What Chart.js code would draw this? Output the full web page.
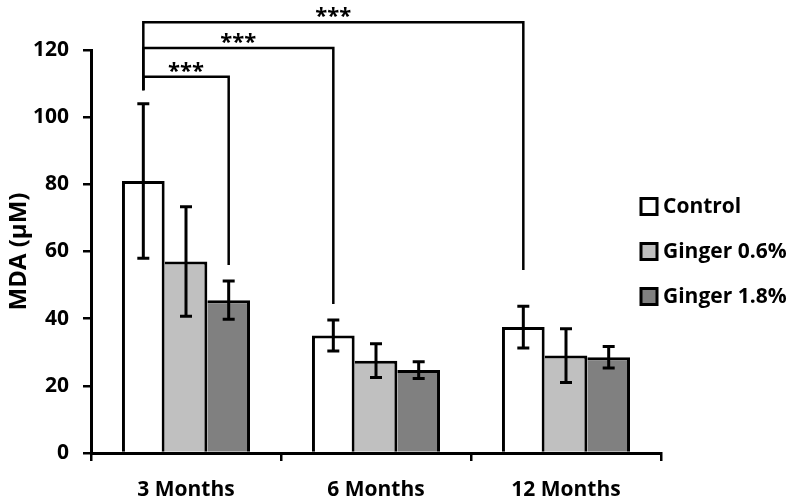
<!DOCTYPE html>
<html lang="en">

<head>
    <meta charset="UTF-8">
    <title>MDA</title>
    <script src="https://cdn.jsdelivr.net/npm/chart.js"></script>
    <style>
        html, body { margin: 0; padding: 0; background: #fff; }
        #box { width: 789px; height: 499px; }
    </style>
</head>

<body>
    <div id="box">
        <canvas id="myChart"></canvas>
    </div>

<script>
    const meses = ['3 Months', '6 Months', '12 Months'];
    const grupos = ['Control', 'Ginger 0.6%', 'Ginger 1.8%'];
    const cores = ['#ffffff', '#c0c0c0', '#808080'];

    const mediaControl = [81, 35, 37.5];
    const mediaGinger06 = [57, 27.5, 29];
    const mediaGinger18 = [45.5, 24.7, 28.5];

    const dpControl = [23, 4.6, 6.2];
    const dpGinger06 = [16.3, 5, 8];
    const dpGinger18 = [5.7, 2.5, 3.2];

    const ticksY = [0, 20, 40, 60, 80, 100, 120];

    // comparações: [grupo, mes] de onde sai, [grupo, mes] onde chega, topo, base esq, base dir
    const comparacoes = [
        [[0, 0], [2, 0], 112, 108, 56],
        [[0, 0], [0, 1], 120.6, 108, 44.4],
        [[0, 0], [0, 2], 128.3, 108, 54.5]
    ];
    const marcaSig = '***';

    const fonte = 'Open Sans';
    const lado = [
        { top: 3, left: 3, right: 3, bottom: 0 },
        { top: 3, left: 0, right: 3, bottom: 0 },
        { top: 3, left: 0, right: 3, bottom: 0 }
    ];

    const medias = [mediaControl, mediaGinger06, mediaGinger18];
    const desvios = [dpControl, dpGinger06, dpGinger18];

    const barrasErro = {
        id: 'barrasErro',
        afterDatasetsDraw(chart) {
            const ctx = chart.ctx;
            const y = chart.scales.y;
            ctx.save();
            ctx.strokeStyle = '#000';
            ctx.lineWidth = 3;
            for (let g = 0; g < medias.length; g++) {
                const meta = chart.getDatasetMeta(g);
                for (let m = 0; m < medias[g].length; m++) {
                    const x = meta.data[m].x;
                    const yTopo = y.getPixelForValue(medias[g][m] + desvios[g][m]);
                    const yBase = y.getPixelForValue(medias[g][m] - desvios[g][m]);
                    ctx.beginPath();
                    ctx.moveTo(x, yTopo);
                    ctx.lineTo(x, yBase);
                    ctx.moveTo(x - 6, yTopo);
                    ctx.lineTo(x + 6, yTopo);
                    ctx.moveTo(x - 6, yBase);
                    ctx.lineTo(x + 6, yBase);
                    ctx.stroke();
                }
            }
            ctx.restore();
        }
    };

    const colchetes = {
        id: 'colchetes',
        afterDraw(chart) {
            const ctx = chart.ctx;
            const y = chart.scales.y;
            ctx.save();
            ctx.strokeStyle = '#000';
            ctx.fillStyle = '#000';
            ctx.lineWidth = 2.5;
            ctx.font = 'bold 22px "' + fonte + '"';
            ctx.textAlign = 'center';
            ctx.textBaseline = 'alphabetic';
            comparacoes.forEach(c => {
                const x1 = chart.getDatasetMeta(c[0][0]).data[c[0][1]].x;
                const x2 = chart.getDatasetMeta(c[1][0]).data[c[1][1]].x;
                const yTopo = y.getPixelForValue(c[2]);
                ctx.beginPath();
                ctx.moveTo(x1, y.getPixelForValue(c[3]));
                ctx.lineTo(x1, yTopo);
                ctx.lineTo(x2, yTopo);
                ctx.lineTo(x2, y.getPixelForValue(c[4]));
                ctx.stroke();
                ctx.fillText(marcaSig, (x1 + x2) / 2, yTopo + 1);
            });
            ctx.restore();
        }
    };

    const legenda = {
        id: 'legenda',
        afterDraw(chart) {
            const ctx = chart.ctx;
            const area = chart.chartArea;
            const xBox = area.right - 20;
            const meio = (area.top + area.bottom) / 2;
            ctx.save();
            ctx.font = 'bold 21px "' + fonte + '"';
            ctx.textAlign = 'left';
            ctx.textBaseline = 'middle';
            chart.data.datasets.forEach((ds, i) => {
                const yc = meio + (i - 1) * 45;
                ctx.fillStyle = ds.backgroundColor;
                ctx.fillRect(xBox, yc - 8, 16, 16);
                ctx.strokeStyle = '#000';
                ctx.lineWidth = 3;
                ctx.strokeRect(xBox, yc - 8, 16, 16);
                ctx.fillStyle = '#000';
                ctx.fillText(ds.label, xBox + 22, yc + 1);
            });
            ctx.restore();
        }
    };

    new Chart(document.getElementById('myChart'), {
        type: 'bar',
        data: {
            labels: meses,
            datasets: grupos.map((nome, i) => ({
                label: nome,
                data: medias[i],
                backgroundColor: cores[i],
                borderColor: '#000',
                borderWidth: lado[i],
                borderSkipped: false,
                categoryPercentage: 0.674,
                barPercentage: 1.0
            }))
        },
        options: {
            responsive: true,
            maintainAspectRatio: false,
            animation: false,
            layout: {
                padding: { top: 50, right: 128, bottom: 0, left: 5 }
            },
            plugins: {
                legend: { display: false },
                tooltip: { enabled: false }
            },
            scales: {
                x: {
                    afterFit(scale) {
                        scale.height = 46;
                    },
                    grid: {
                        display: true,
                        drawOnChartArea: false,
                        drawTicks: true,
                        tickLength: 8,
                        color: '#000',
                        lineWidth: 2.5,
                        offset: true
                    },
                    border: { color: '#000', width: 3 },
                    ticks: {
                        color: '#000',
                        padding: 16,
                        font: { family: fonte, size: 21, weight: 'bold' }
                    }
                },
                y: {
                    min: 0,
                    max: 120,
                    afterBuildTicks(scale) {
                        scale.ticks = ticksY.map(v => ({ value: v }));
                    },
                    afterFit(scale) {
                        scale.width = 86;
                    },
                    grid: {
                        display: true,
                        drawOnChartArea: false,
                        drawTicks: true,
                        tickLength: 8,
                        color: '#000',
                        lineWidth: 2.5
                    },
                    border: { color: '#000', width: 3 },
                    ticks: {
                        color: '#000',
                        padding: 14,
                        font: { family: fonte, size: 21, weight: 'bold' }
                    },
                    title: {
                        display: true,
                        text: 'MDA (μM)',
                        color: '#000',
                        padding: { top: 0, bottom: 4 },
                        font: { family: fonte, size: 24, weight: 'bold' }
                    }
                }
            }
        },
        plugins: [barrasErro, colchetes, legenda]
    });
</script>
</body>

</html>
